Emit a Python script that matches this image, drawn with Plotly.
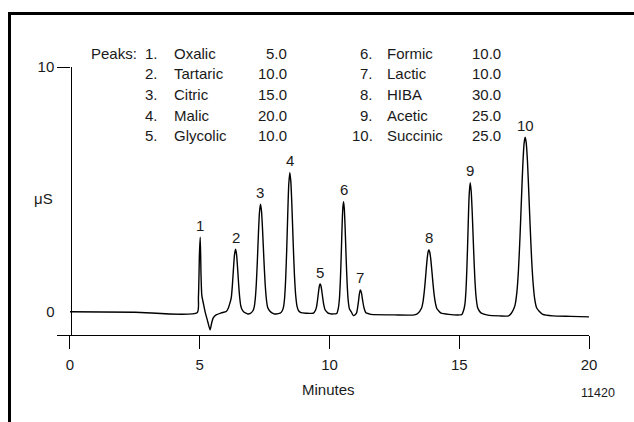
import plotly.graph_objects as go

# ---------------- data ----------------
time_min = [
    0.00, 2.50, 4.90, 4.95, 4.99, 5.02, 5.05, 5.08, 5.15, 5.22, 5.31, 5.40, 5.46, 5.52, 5.63, 5.83,
    6.02, 6.10, 6.15, 6.18, 6.22, 6.26, 6.30, 6.34, 6.38, 6.42, 6.46, 6.50, 6.54, 6.58, 6.63, 6.70, 6.78, 6.85,
    6.95, 7.05, 7.10, 7.14, 7.18, 7.22, 7.26, 7.30, 7.34, 7.38, 7.42, 7.47, 7.52, 7.57, 7.62, 7.69, 7.80, 7.88,
    8.10, 8.18, 8.23, 8.27, 8.31, 8.35, 8.39, 8.43, 8.47, 8.51, 8.55, 8.60, 8.65, 8.70, 8.75, 8.81, 8.90, 9.10,
    9.38, 9.46, 9.50, 9.54, 9.58, 9.61, 9.64, 9.67, 9.70, 9.74, 9.78, 9.83, 9.90, 9.95, 10.05, 10.13,
    10.28, 10.34, 10.38, 10.42, 10.45, 10.48, 10.51, 10.54, 10.57, 10.60, 10.64, 10.68, 10.72, 10.77, 10.84, 10.92,
    11.00, 11.05, 11.09, 11.12, 11.15, 11.19, 11.23, 11.28, 11.33, 11.40, 11.54, 11.60, 12.50, 13.27,
    13.40, 13.55, 13.60, 13.65, 13.69, 13.73, 13.77, 13.80, 13.83, 13.86, 13.90, 13.94, 13.98, 14.03, 14.08, 14.14, 14.22, 14.30, 14.60, 15.01,
    15.10, 15.17, 15.22, 15.26, 15.29, 15.32, 15.35, 15.38, 15.42, 15.46, 15.50, 15.55, 15.60, 15.65, 15.71, 15.78, 15.85, 16.10, 16.55,
    16.90, 17.00, 17.08, 17.15, 17.22, 17.28, 17.34, 17.40, 17.45, 17.50, 17.54, 17.58, 17.63, 17.68, 17.73, 17.79, 17.85, 17.91, 17.98, 18.08, 18.22, 18.60, 19.30, 20.00,
]
signal_uS = [
    0.01, -0.01, -0.03, 0.60, 2.40, 3.05, 1.50, 0.69, 0.30, -0.05, -0.40, -0.73, -0.45, -0.24, -0.12, -0.04,
    0.02, 0.15, 0.32, 0.42, 0.62, 1.12, 1.77, 2.34, 2.56, 2.34, 1.77, 1.12, 0.59, 0.26, 0.10, 0.00, -0.05, -0.08,
    -0.06, 0.05, 0.21, 0.54, 1.15, 2.07, 3.15, 4.04, 4.40, 4.12, 3.38, 2.20, 1.16, 0.50, 0.18, 0.05, -0.05, -0.08,
    -0.05, 0.05, 0.21, 0.57, 1.31, 2.49, 3.94, 5.19, 5.69, 5.33, 4.38, 2.85, 1.50, 0.65, 0.23, 0.05, -0.03, -0.05,
    -0.05, 0.07, 0.21, 0.49, 0.84, 1.06, 1.14, 1.07, 0.89, 0.57, 0.29, 0.09, 0.00, -0.05, -0.08, -0.08,
    -0.06, 0.15, 0.50, 1.31, 2.25, 3.31, 4.17, 4.50, 4.23, 3.51, 2.25, 1.16, 0.48, 0.12, 0.00, -0.15,
    -0.10, -0.02, 0.22, 0.45, 0.72, 0.90, 0.79, 0.45, 0.17, -0.03, -0.08, -0.10, -0.12, -0.12,
    -0.06, 0.16, 0.39, 0.81, 1.26, 1.78, 2.23, 2.45, 2.53, 2.46, 2.18, 1.74, 1.26, 0.73, 0.37, 0.13, 0.03, -0.05, -0.10, -0.12,
    -0.10, 0.07, 0.33, 0.90, 1.66, 2.64, 3.76, 4.73, 5.28, 4.94, 4.07, 2.64, 1.39, 0.60, 0.17, 0.03, -0.05, -0.13, -0.16,
    -0.16, -0.06, 0.08, 0.28, 0.80, 1.67, 3.04, 4.69, 6.00, 6.89, 7.13, 6.91, 6.12, 4.88, 3.56, 2.13, 1.13, 0.51, 0.17, 0.03, -0.10, -0.16, -0.18, -0.20,
]

peak_numbers = ["1", "2", "3", "4", "5", "6", "7", "8", "9", "10"]
peak_names = ["Oxalic", "Tartaric", "Citric", "Malic", "Glycolic",
              "Formic", "Lactic", "HIBA", "Acetic", "Succinic"]
peak_conc = ["5.0", "10.0", "15.0", "20.0", "10.0",
             "10.0", "10.0", "30.0", "25.0", "25.0"]
peak_times = [5.02, 6.38, 7.34, 8.47, 9.64, 10.54, 11.19, 13.83, 15.42, 17.54]
peak_heights = [3.05, 2.56, 4.40, 5.69, 1.14, 4.50, 0.90, 2.53, 5.28, 7.13]

x_ticks = [0, 5, 10, 15, 20]
y_ticks_main = [10]
y_ticks_zero = [0]

# ---------------- layout helpers ----------------
W, H = 634, 422
FONT = "Liberation Sans, Arial, sans-serif"
FS = 15
TXT = "#1a1a1a"


def fx(p):
    return p / W


def fy(p):
    return 1 - p / H


fig = go.Figure()
fig.add_trace(go.Scatter(
    x=time_min, y=signal_uS, mode="lines",
    line=dict(color="black", width=1.4, shape="spline", smoothing=0.6),
    hoverinfo="skip", showlegend=False,
))
# invisible trace to carry the second (label-only) y axis
fig.add_trace(go.Scatter(x=[time_min[0]], y=[signal_uS[0]], yaxis="y2",
                         mode="markers", marker=dict(opacity=0),
                         showlegend=False, hoverinfo="skip"))

annotations = []
for num, t, h in zip(peak_numbers, peak_times, peak_heights):
    annotations.append(dict(x=t, y=h, xref="x", yref="y", text=num, showarrow=False,
                            yshift=12, yanchor="middle", xanchor="center",
                            font=dict(family=FONT, size=FS, color=TXT)))

row_y = [53, 73.7, 94.4, 115.1, 135.8]
annotations.append(dict(x=fx(89), y=fy(row_y[0]), xref="paper", yref="paper", text="Peaks:",
                        showarrow=False, xanchor="left", yanchor="middle",
                        font=dict(family=FONT, size=FS, color=TXT)))
col_num_x = [160, 375]
col_name_x = [172, 385]
col_val_x = [288.5, 503]
for i, (num, name, conc) in enumerate(zip(peak_numbers, peak_names, peak_conc)):
    c, r = divmod(i, 5)
    for txt, xx, anc in ((num + ".", col_num_x[c], "right"),
                         (name, col_name_x[c], "left"),
                         (conc, col_val_x[c], "right")):
        annotations.append(dict(x=fx(xx), y=fy(row_y[r]), xref="paper", yref="paper", text=txt,
                                showarrow=False, xanchor=anc, yanchor="middle",
                                font=dict(family=FONT, size=FS, color=TXT)))

annotations.append(dict(x=fx(43), y=fy(198), xref="paper", yref="paper", text="μS",
                        showarrow=False, xanchor="center", yanchor="middle",
                        font=dict(family=FONT, size=FS, color=TXT)))
annotations.append(dict(x=fx(328), y=fy(389), xref="paper", yref="paper", text="Minutes",
                        showarrow=False, xanchor="center", yanchor="middle",
                        font=dict(family=FONT, size=FS, color=TXT)))
annotations.append(dict(x=fx(598), y=fy(393), xref="paper", yref="paper", text="11420",
                        showarrow=False, xanchor="center", yanchor="middle",
                        font=dict(family=FONT, size=12.5, color=TXT)))

fig.update_layout(
    width=W, height=H,
    margin=dict(l=0, r=0, t=0, b=0, pad=0),
    paper_bgcolor="white", plot_bgcolor="white",
    showlegend=False,
    xaxis=dict(domain=[fx(57), fx(589)], range=[-0.5, 20], showline=True, linecolor="black",
               linewidth=1.4, ticks="outside", ticklen=13, tickwidth=1.4, tickcolor="black",
               tickvals=x_ticks, showgrid=False, zeroline=False, automargin=False,
               ticklabelstandoff=3,
               tickfont=dict(family=FONT, size=FS, color=TXT)),
    yaxis=dict(domain=[fy(335), fy(67)], range=[-0.94, 10], anchor="free", position=fx(70.5),
               showline=True, linecolor="black", linewidth=1.4, ticks="outside", ticklen=13,
               tickwidth=1.4, tickcolor="black", tickvals=y_ticks_main, showgrid=False,
               zeroline=False, automargin=False,
               tickfont=dict(family=FONT, size=FS, color=TXT)),
    yaxis2=dict(overlaying="y", matches="y", anchor="free", position=fx(70.5), side="left",
                showline=False, ticks="outside", ticklen=13, tickcolor="rgba(0,0,0,0)",
                tickvals=y_ticks_zero, showgrid=False, zeroline=False, automargin=False,
                tickfont=dict(family=FONT, size=FS, color=TXT)),
    annotations=annotations,
    shapes=[dict(type="rect", xref="paper", yref="paper", x0=fx(9.5), x1=1.1, y0=-0.1, y1=fy(13.5),
                 line=dict(color="black", width=3), fillcolor="rgba(0,0,0,0)", layer="above")],
)

fig.write_html("out.html")
